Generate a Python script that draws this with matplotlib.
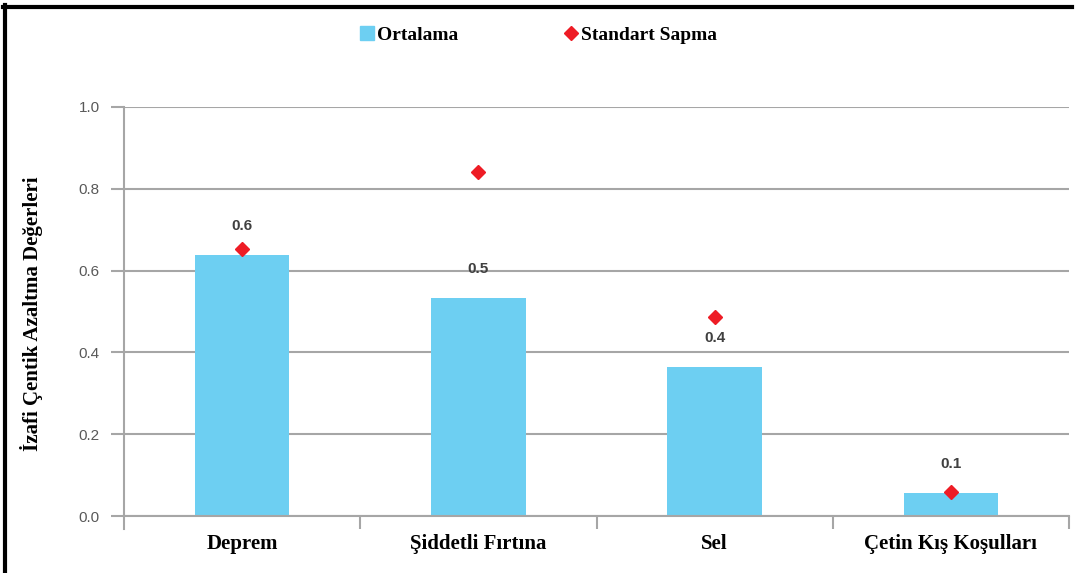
import numpy as np
import matplotlib
matplotlib.use("Agg")
import matplotlib.pyplot as plt
from matplotlib.lines import Line2D

categories = ["Deprem", "Şiddetli Fırtına", "Sel", "Çetin Kış Koşulları"]
ortalama = [0.638, 0.533, 0.364, 0.056]
std_sapma = [0.653, 0.841, 0.487, 0.059]
yticks = [0.0, 0.2, 0.4, 0.6, 0.8, 1.0]

BLUE = "#6DCFF2"
RED = "#EE1C25"
GRID = "#A6A6A6"
SERIF = "Liberation Serif"
SANS = "Liberation Sans"

fig = plt.figure(figsize=(10.81, 5.73), dpi=100)
ax = fig.add_axes([124 / 1081, 57 / 573, 945 / 1081, 409 / 573])

x = np.arange(len(categories))
bars = ax.bar(x, ortalama, width=0.40, color=BLUE, zorder=2)
ax.plot(x, std_sapma, linestyle="none", marker="D", markersize=7,
        color=RED, zorder=3)

for xi, v in zip(x, ortalama):
    ax.annotate(f"{v:.1f}", (xi, v), xytext=(0, 21), textcoords="offset points",
                ha="center", va="center", fontsize=11, fontweight="bold",
                family=SANS, color="#404040")

ax.set_xlim(-0.5, len(categories) - 0.5)
ax.set_ylim(0, 1.0)
ax.set_yticks(yticks)
ax.set_yticklabels([f"{t:.1f}" for t in yticks], family=SANS, fontsize=11,
                   color="#595959")
ax.grid(axis="y", color=GRID, linewidth=1.5, zorder=0)
ax.set_axisbelow(True)

ax.set_xticks(x)
ax.set_xticklabels(categories, family=SERIF, fontweight="bold", fontsize=15)
ax.set_xticks(np.arange(len(categories)) + 0.5, minor=True)
ax.tick_params(axis="x", which="major", length=0, pad=13)
ax.tick_params(axis="x", which="minor", length=9.5, width=1.5, color=GRID,
               direction="out")
ax.tick_params(axis="y", length=9.5, width=1.5, color=GRID, pad=8)

for s in ["top", "right"]:
    ax.spines[s].set_visible(False)
ax.spines["bottom"].set_color(GRID)
ax.spines["bottom"].set_linewidth(1.5)
ax.spines["left"].set_visible(False)
ax.plot([0, 0], [-0.032, 1.0], transform=ax.transAxes, color=GRID,
        linewidth=1.5, clip_on=False, zorder=4)

ax.set_ylabel("İzafi Çentik Azaltma Değerleri", family=SERIF,
              fontweight="bold", fontsize=15)
ax.yaxis.set_label_coords(-0.086, 0.494)

handles = [
    Line2D([], [], linestyle="none", marker="s", markersize=9.4, color=BLUE),
    Line2D([], [], linestyle="none", marker="D", markersize=7, color=RED),
]
fig.legend(handles, ["Ortalama", "Standart Sapma"], loc="center",
           bbox_to_anchor=(0.498, 1 - 35 / 573), ncol=2, frameon=False,
           handlelength=0.8, handletextpad=0.1, columnspacing=5.4,
           prop={"family": SERIF, "weight": "bold", "size": 14})

# figure frame (left and top edges)
fig.add_artist(Line2D([5 / 1081, 5 / 1081], [0, 1 - 5 / 573],
                      transform=fig.transFigure, color="black", linewidth=3))
fig.add_artist(Line2D([3 / 1081, 1072 / 1081], [1 - 7 / 573, 1 - 7 / 573],
                      transform=fig.transFigure, color="black", linewidth=3))

fig.savefig("out.png", dpi=100)
